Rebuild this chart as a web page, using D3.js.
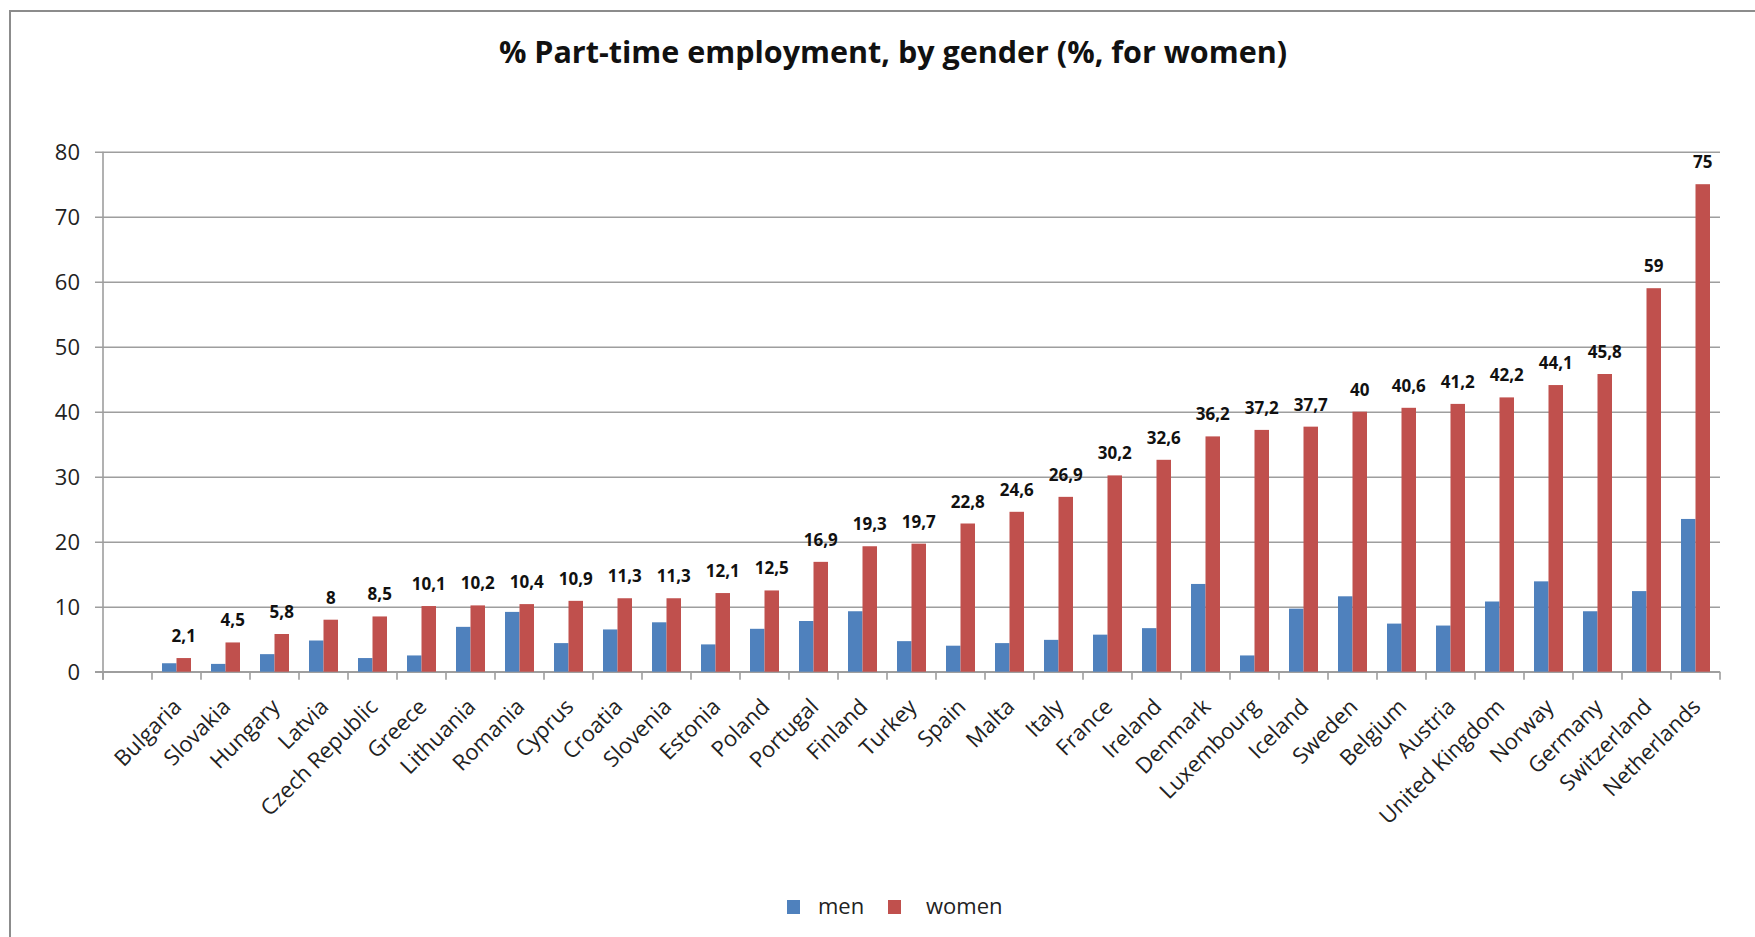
<!DOCTYPE html>
<html>
<head>
<meta charset="utf-8">
<script src="https://cdn.jsdelivr.net/npm/d3@7"></script>
<style>
  html, body { margin: 0; padding: 0; background: #fff; }
  svg { display: block; }
</style>
</head>
<body>
<svg id="chart" width="1755" height="937"></svg>
<script>
// ---- data ----
const title = "% Part-time employment, by gender (%, for women)";
const categories = ["", "Bulgaria", "Slovakia", "Hungary", "Latvia", "Czech Republic", "Greece",
  "Lithuania", "Romania", "Cyprus", "Croatia", "Slovenia", "Estonia", "Poland", "Portugal",
  "Finland", "Turkey", "Spain", "Malta", "Italy", "France", "Ireland", "Denmark", "Luxembourg",
  "Iceland", "Sweden", "Belgium", "Austria", "United Kingdom", "Norway", "Germany",
  "Switzerland", "Netherlands"];
const men = [null, 1.3, 1.2, 2.7, 4.8, 2.1, 2.5, 6.9, 9.2, 4.4, 6.5, 7.6, 4.2, 6.6, 7.8,
  9.3, 4.7, 4.0, 4.4, 4.9, 5.7, 6.7, 13.5, 2.5, 9.7, 11.6, 7.4, 7.1, 10.8, 13.9, 9.3, 12.4, 23.5];
const women = [null, 2.1, 4.5, 5.8, 8, 8.5, 10.1, 10.2, 10.4, 10.9, 11.3, 11.3, 12.1, 12.5, 16.9,
  19.3, 19.7, 22.8, 24.6, 26.9, 30.2, 32.6, 36.2, 37.2, 37.7, 40, 40.6, 41.2, 42.2, 44.1, 45.8, 59, 75];
const seriesNames = ["men", "women"];
const seriesColors = ["#4F81BD", "#C0504D"];
const yTicks = [0, 10, 20, 30, 40, 50, 60, 70, 80];

// ---- layout ----
const svg = d3.select("#chart");
const L = 103, R = 1720, T = 151.7, B = 671.7;
const FONT = "'Open Sans', sans-serif";

// frame
svg.append("rect").attr("x", 10).attr("y", 11).attr("width", 1800).attr("height", 1000)
  .attr("fill", "#fff").attr("stroke", "#8c8c8c").attr("stroke-width", 2);

const x0 = d3.scaleBand().domain(d3.range(categories.length)).range([L, R]).padding(0);
const x1 = d3.scaleBand().domain(seriesNames).range([0, x0.bandwidth()]).paddingInner(0).paddingOuter(0.69);
const y = d3.scaleLinear().domain([0, 80]).range([B, T]);

// gridlines + y labels
const yAxis = d3.axisLeft(y).tickValues(yTicks).tickSize(-(R - L)).tickPadding(0).tickFormat(d3.format("d"));
const gy = svg.append("g").attr("transform", `translate(${L},0)`).call(yAxis);
gy.select(".domain").remove();
gy.selectAll(".tick line").attr("x1", -8).attr("stroke", "#9e9e9e").attr("stroke-width", 1.6);
gy.selectAll(".tick text").attr("x", -23).attr("dy", "0.36em")
  .style("font-family", FONT).style("font-size", "22px").attr("fill", "#222");
// y axis line
svg.append("line").attr("x1", L).attr("x2", L).attr("y1", T).attr("y2", B + 8)
  .attr("stroke", "#9e9e9e").attr("stroke-width", 1.6);

// x axis line and boundary ticks
svg.append("line").attr("x1", L - 8).attr("x2", R).attr("y1", B).attr("y2", B)
  .attr("stroke", "#9e9e9e").attr("stroke-width", 1.6);
const boundaries = d3.range(categories.length + 1).map(i => i < categories.length ? x0(i) : R);
svg.append("g").selectAll("line").data(boundaries).join("line")
  .attr("x1", d => d).attr("x2", d => d).attr("y1", B).attr("y2", B + 8)
  .attr("stroke", "#9e9e9e").attr("stroke-width", 1.6);

// bars
const groups = svg.append("g").selectAll("g").data(categories.map((c, i) => i)).join("g")
  .attr("transform", i => `translate(${x0(i)},0)`);
groups.selectAll("rect")
  .data(i => [men[i], women[i]].map((v, k) => ({ v, k })).filter(d => d.v != null))
  .join("rect")
  .attr("x", d => x1(seriesNames[d.k]))
  .attr("width", x1.bandwidth())
  .attr("y", d => y(d.v))
  .attr("height", d => y(0) - y(d.v))
  .attr("fill", d => seriesColors[d.k]);

// value labels (women)
const fmt = v => String(v).replace(".", ",");
svg.append("g").selectAll("text")
  .data(categories.map((c, i) => i).filter(i => women[i] != null))
  .join("text")
  .attr("x", i => x0(i) + x1("women") + x1.bandwidth() / 2)
  .attr("y", i => y(women[i]) - 16)
  .attr("text-anchor", "middle")
  .style("font-family", FONT).style("font-size", "17px").style("font-weight", "bold")
  .attr("fill", "#111")
  .text(i => fmt(women[i]));

// category labels
svg.append("g").selectAll("text").data(categories.map((c, i) => i).filter(i => categories[i] !== ""))
  .join("text")
  .attr("transform", i => `translate(${x0(i) + x0.bandwidth() / 2 + 1},${B + 31}) rotate(-45)`)
  .attr("text-anchor", "end")
  .attr("dy", "0.35em")
  .style("font-family", FONT).style("font-size", "22px").attr("fill", "#222")
  .text(i => categories[i]);

// title
svg.append("text").attr("x", 893).attr("y", 63).attr("text-anchor", "middle")
  .style("font-family", FONT).style("font-size", "30.5px").style("font-weight", "bold")
  .attr("fill", "#111").text(title);

// legend
const legendItems = [{ x: 787, tx: 818 }, { x: 888, tx: 926 }];
const lg = svg.append("g");
seriesNames.forEach((s, k) => {
  lg.append("rect").attr("x", legendItems[k].x).attr("y", 900).attr("width", 13).attr("height", 14)
    .attr("fill", seriesColors[k]);
  lg.append("text").attr("x", legendItems[k].tx).attr("y", 914)
    .style("font-family", FONT).style("font-size", "22px").attr("fill", "#222").text(s);
});
</script>
</body>
</html>
